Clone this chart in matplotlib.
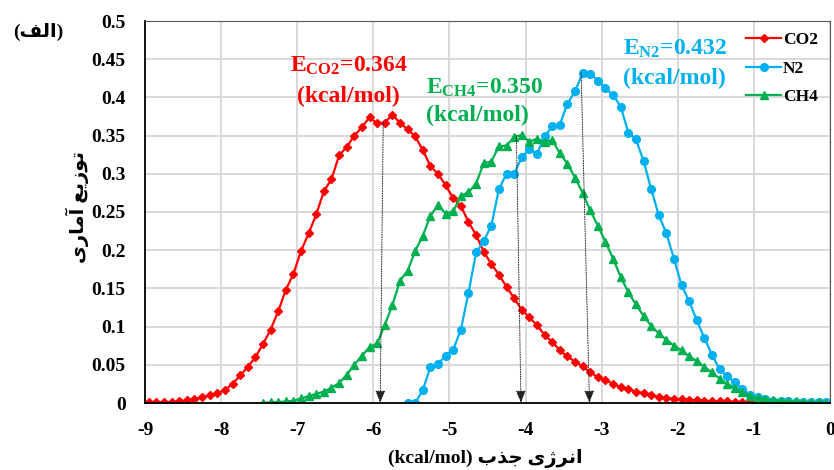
import numpy as np
import matplotlib
matplotlib.use('Agg')
import matplotlib.pyplot as plt

# binding-energy distributions, bin centres every 0.1 kcal/mol
co2_start = -8.95
co2 = [0.001, 0.001, 0.001, 0.001, 0.002, 0.0035, 0.005, 0.0075, 0.010, 0.013,
       0.017, 0.025, 0.036, 0.047, 0.060, 0.077, 0.096, 0.120, 0.148, 0.169,
       0.199, 0.222, 0.247, 0.277, 0.293, 0.324, 0.335, 0.350, 0.361, 0.374,
       0.366, 0.367, 0.377, 0.367, 0.358, 0.349, 0.331, 0.310, 0.300, 0.285,
       0.268, 0.258, 0.237, 0.220, 0.198, 0.182, 0.168, 0.152, 0.137, 0.122,
       0.112, 0.102, 0.089, 0.080, 0.069, 0.061, 0.054, 0.048, 0.040, 0.034,
       0.030, 0.025, 0.021, 0.018, 0.015, 0.013, 0.010, 0.008, 0.007, 0.0055,
       0.005, 0.004, 0.0035, 0.003, 0.0025, 0.002, 0.002, 0.0015, 0.0012, 0.001,
       0.001, 0.0008]

n2_start = -5.55
n2 = [0.0, 0.0, 0.017, 0.047, 0.051, 0.062, 0.070, 0.096, 0.144, 0.197,
      0.212, 0.232, 0.280, 0.300, 0.300, 0.322, 0.332, 0.326, 0.349, 0.362,
      0.364, 0.392, 0.408, 0.432, 0.431, 0.422, 0.412, 0.403, 0.388, 0.354,
      0.345, 0.317, 0.280, 0.246, 0.222, 0.189, 0.154, 0.133, 0.108, 0.085,
      0.063, 0.044, 0.035, 0.027, 0.018, 0.011, 0.008, 0.005, 0.003, 0.002,
      0.002, 0.001, 0.001, 0.001, 0.001, 0.001]

ch4_start = -7.45
ch4 = [0.0, 0.0008, 0.0012, 0.002, 0.003, 0.006, 0.009, 0.012, 0.015, 0.020,
       0.026, 0.037, 0.050, 0.062, 0.073, 0.078, 0.102, 0.128, 0.160, 0.173,
       0.199, 0.219, 0.245, 0.259, 0.248, 0.251, 0.271, 0.276, 0.287, 0.314,
       0.316, 0.336, 0.337, 0.348, 0.351, 0.342, 0.346, 0.342, 0.344, 0.327,
       0.313, 0.295, 0.275, 0.252, 0.232, 0.211, 0.189, 0.165, 0.145, 0.129,
       0.114, 0.101, 0.091, 0.083, 0.075, 0.069, 0.061, 0.055, 0.047, 0.040,
       0.032, 0.025, 0.019, 0.014, 0.009, 0.007, 0.005, 0.004, 0.003, 0.002,
       0.002, 0.0015, 0.001, 0.001, 0.0005]

# mean energies marked by arrows: (x at curve, y at curve, x at axis)
arrows = [(-5.87, 0.367, -5.91), (-4.12, 0.350, -4.06), (-3.27, 0.432, -3.16)]

xticks = list(range(-9, 1))
yticks = [0, 0.05, 0.1, 0.15, 0.2, 0.25, 0.3, 0.35, 0.4, 0.45, 0.5]

RED = '#FF0000'
BLUE = '#00B0F0'
GREEN = '#00B050'

plt.rcParams['mathtext.fontset'] = 'custom'
plt.rcParams['mathtext.rm'] = 'Liberation Serif:bold'
plt.rcParams['mathtext.bf'] = 'Liberation Serif:bold'
plt.rcParams['mathtext.it'] = 'Liberation Serif:bold'
serif = dict(family='Liberation Serif', weight='bold')
farsi = dict(family=['Liberation Serif', 'DejaVu Sans'], weight='bold')


def grid_x(start, vals):
    return np.round(start + 0.1 * np.arange(len(vals)), 2)


fig = plt.figure(figsize=(8.34, 4.70), dpi=100)
ax = fig.add_axes([145/834, 1 - 403/470, 685/834, 382/470])

ax.plot(grid_x(co2_start, co2), co2, color=RED, lw=1.6, marker='D', ms=4.4, label='CO2')
ax.plot(grid_x(n2_start, n2), n2, color=BLUE, lw=1.6, marker='o', ms=5.5, label='N2')
ax.plot(grid_x(ch4_start, ch4), ch4, color=GREEN, lw=1.6, marker='^', ms=6, label='CH4')

for xt, yt, xb in arrows:
    ax.annotate('', xy=(xb, 0), xytext=(xt, yt),
                arrowprops=dict(arrowstyle='-|>,head_length=0.75,head_width=0.3',
                                color='#222222', lw=0.7, ls=(0, (1, 1.5)),
                                shrinkA=0, shrinkB=0))

ax.text(-6.32, 0.441, r'E$_{\mathrm{CO2}}$=0.364', color=RED, fontsize=17,
        ha='center', va='center', **serif)
ax.text(-6.33, 0.401, '(kcal/mol)', color=RED, fontsize=17, ha='center', va='center', **serif)
ax.text(-5.31, 0.413, r'E$_{\mathrm{CH4}}$=0.350', color=GREEN, fontsize=17,
        ha='left', va='center', **serif)
ax.text(-5.31, 0.377, '(kcal/mol)', color=GREEN, fontsize=17, ha='left', va='center', **serif)
ax.text(-2.72, 0.463, r'E$_{\mathrm{N2}}$=0.432', color=BLUE, fontsize=17,
        ha='left', va='center', **serif)
ax.text(-2.72, 0.425, '(kcal/mol)', color=BLUE, fontsize=17, ha='left', va='center', **serif)

ax.set_xlim(-9, 0)
ax.set_ylim(0, 0.5)
ax.set_xticks(xticks)
ax.set_xticklabels([str(t) for t in xticks])
ax.set_yticks(yticks)
ax.set_yticklabels(['0', '0.05', '0.1', '0.15', '0.2', '0.25', '0.3', '0.35', '0.4', '0.45', '0.5'])
for lab in ax.get_xticklabels() + ax.get_yticklabels():
    lab.set_fontfamily('Liberation Serif')
    lab.set_fontweight('bold')
    lab.set_fontsize(14)
ax.tick_params(length=0, pad=14)
ax.grid(True, color='#D9D9D9', lw=1.4)
ax.set_axisbelow(True)
ax.spines['left'].set_color('black')
ax.spines['bottom'].set_color('black')
ax.spines['left'].set_linewidth(1.3)
ax.spines['bottom'].set_linewidth(1.3)
ax.spines['top'].set_color('#595959')
ax.spines['right'].set_color('#595959')

leg = ax.legend(loc='upper left', bbox_to_anchor=(0.855, 1.012), frameon=False,
                handlelength=2.0, handletextpad=0.1, labelspacing=0.72,
                prop=dict(family='Liberation Serif', weight='bold', size=12.5))

# persian texts written in visual order with presentation forms
fig.text(485/834, 1 - 458/470, '(kcal/mol) \ufe8f\ufeac\ufe9f \ufbfc\ufb8a\ufeae\ufee7\ufe8d',
         ha='center', va='center', fontsize=14, **farsi)
fig.text(77/834, 1 - 207/470, '\ufbfc\ufead\ufe8e\ufee3\ufe81 \ufeca\ufbfe\ufeaf\ufeee\ufe97',
         ha='center', va='center', rotation=90, fontsize=14, **farsi)
fig.text(38/834, 1 - 32/470, '(\ufed2\ufedf\ufe8d)', ha='center', va='center',
         fontsize=14, **farsi)

plt.savefig('out.png', dpi=100, facecolor='w')
